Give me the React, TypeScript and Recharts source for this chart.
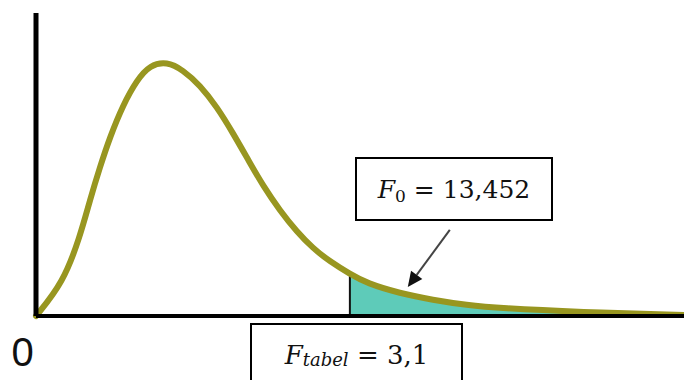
import React from 'react';
import {
  ComposedChart,
  Area,
  Line,
  XAxis,
  YAxis,
  ReferenceLine,
} from 'recharts';

// F statistic values along the x axis
const fValues = [
  0, 0.267, 0.434, 0.533, 0.632, 0.731, 0.859, 0.997, 1.125, 1.293, 1.451, 1.619,
  1.787, 1.945, 2.113, 2.241, 2.409, 2.577, 2.734, 2.902, 3.1, 3.268, 3.593, 3.919,
  4.255, 4.58, 5.37, 6.4,
];
// curve height (relative density)
const density = [
  0, 0.109, 0.261, 0.383, 0.492, 0.591, 0.696, 0.779, 0.828, 0.84, 0.812, 0.762,
  0.69, 0.604, 0.505, 0.431, 0.348, 0.278, 0.224, 0.18, 0.139, 0.108, 0.075, 0.053,
  0.036, 0.026, 0.013, 0.003,
];

const fTabel = 3.1;
const fTabelLabel = '3,1';
const fObserved = '13,452';
const xTicks = [0];

const data = fValues.map((f, i) => ({
  f,
  density: density[i],
  tail: f >= fTabel ? density[i] : null,
}));

const tabelHeight = density[fValues.indexOf(fTabel)];

const Arrow = (props: any) => {
  const { x1, y1, x2, y2 } = props;
  const ang = Math.atan2(y2 - y1, x2 - x1);
  const len = 15;
  const w = 7;
  const bx = x2 - len * Math.cos(ang);
  const by = y2 - len * Math.sin(ang);
  const px = -Math.sin(ang) * w;
  const py = Math.cos(ang) * w;
  return (
    <g>
      <line x1={x1} y1={y1} x2={bx} y2={by} stroke="#444" strokeWidth={2} />
      <polygon points={`${x2},${y2} ${bx + px},${by + py} ${bx - px},${by - py}`} fill="#111" />
    </g>
  );
};

const ZeroTick = (props: any) => {
  const { x, y, payload } = props;
  return (
    <text x={x - 13.5} y={y + 42} textAnchor="middle" fontSize={40} fill="#111" fontFamily="'Liberation Sans', Arial, sans-serif">
      {payload.value}
    </text>
  );
};

const boxStyle: React.CSSProperties = {
  position: 'absolute',
  border: '2px solid #000',
  boxSizing: 'border-box',
  background: '#fff',
  display: 'flex',
  alignItems: 'center',
  justifyContent: 'center',
  fontFamily: '"DejaVu Serif", serif',
  fontSize: 25,
  color: '#111',
  whiteSpace: 'nowrap',
};

export default function App() {
  return (
    <div style={{ position: 'relative', width: 684, height: 380, background: '#fff', overflow: 'hidden' }}>
      <style>{`body{margin:0}`}</style>
      <ComposedChart width={684} height={380} data={data} margin={{ top: 13, right: 0, left: 0, bottom: 0 }}>
        <XAxis
          dataKey="f"
          type="number"
          domain={[0, 6.4]}
          ticks={xTicks}
          height={64}
          axisLine={{ stroke: '#000', strokeWidth: 4 }}
          tickLine={false}
          tick={<ZeroTick />}
        />
        <YAxis
          type="number"
          domain={[0, 1]}
          width={36}
          tick={false}
          tickLine={false}
          axisLine={{ stroke: '#000', strokeWidth: 5 }}
        />
        <Area
          type="basis"
          dataKey="tail"
          stroke="none"
          fill="#5ecbb9"
          fillOpacity={1}
          isAnimationActive={false}
        />
        <ReferenceLine
          segment={[{ x: fTabel, y: 0 }, { x: fTabel, y: tabelHeight }]}
          stroke="#111"
          strokeWidth={2}
        />
        <Line
          type="basis"
          dataKey="density"
          stroke="#989620"
          strokeWidth={6}
          strokeLinecap="round"
          dot={false}
          isAnimationActive={false}
        />
        <ReferenceLine
          segment={[{ x: 4.087, y: 0.284 }, { x: 3.672, y: 0.096 }]}
          shape={<Arrow />}
        />
      </ComposedChart>
      <div style={{ ...boxStyle, left: 355, top: 157, width: 198, height: 64 }}>
        <span style={{ fontStyle: 'italic' }}>F</span>
        <span style={{ fontSize: 17, position: 'relative', top: 7 }}>0</span>
        <span>&nbsp;=&nbsp;{fObserved}</span>
      </div>
      <div style={{ ...boxStyle, left: 250, top: 323, width: 213, height: 70, alignItems: 'flex-start', paddingTop: 15 }}>
        <span style={{ fontStyle: 'italic', fontSize: 26 }}>F</span>
        <span style={{ fontSize: 18, fontStyle: 'italic', position: 'relative', top: 9 }}>tabel</span>
        <span style={{ fontSize: 26 }}>&nbsp;=&nbsp;{fTabelLabel}</span>
      </div>
    </div>
  );
}
